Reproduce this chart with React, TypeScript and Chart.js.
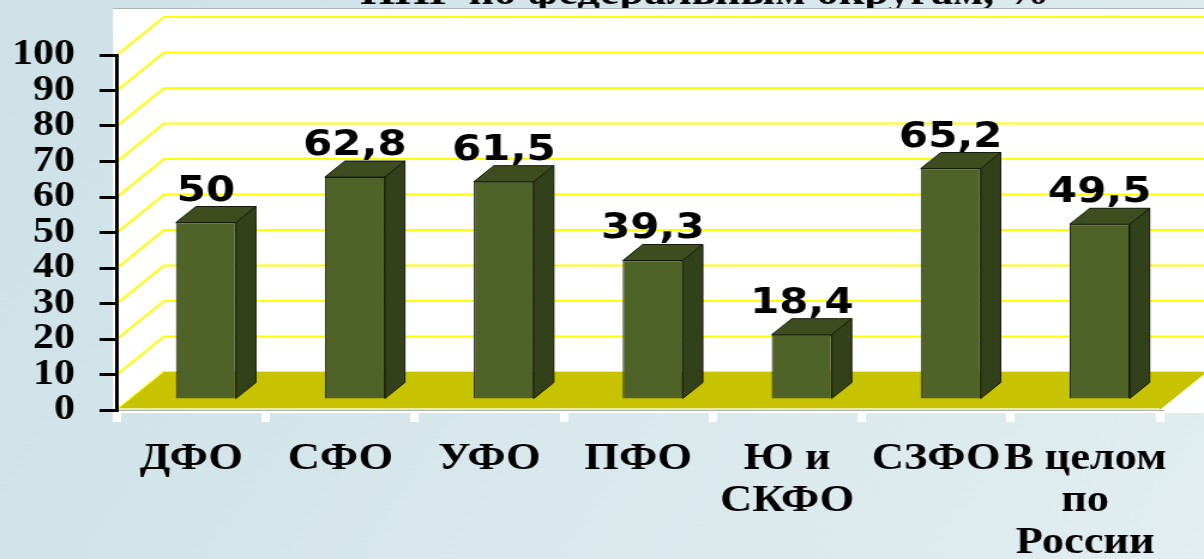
import React, { useEffect, useRef } from "react";
import { Chart, registerables } from "chart.js";

Chart.register(...registerables);

// ---- data ----
const chartTitle = "ННГ по федеральным округам, %";
const categories: string[][] = [
  ["ДФО"],
  ["СФО"],
  ["УФО"],
  ["ПФО"],
  ["Ю и", "СКФО"],
  ["СЗФО"],
  ["В целом", "по", "России"],
];
const values: number[] = [50, 62.8, 61.5, 39.3, 18.4, 65.2, 49.5];
const yMin = 0;
const yMax = 100;
const yStep = 10;

// ---- layout (canvas units; canvas is stretched horizontally like the source slide) ----
const CW = 1004;
const CH = 559;
const SX = 1204 / CW;
const AXIS_W = 97.5;
const TOP = 55;
const RIGHT_PAD = CW - 967;
const XAXIS_H = 149;
const WALL_DX = 47 / SX;
const WALL_DY = -38;
const BAR_SHIFT_X = 14.5 / SX;
const BAR_SHIFT_Y = -10;
const BAR_DX = 20 / SX;
const BAR_DY = -16;

const FRONT = "#4f6228";
const TOPC = "#3e4d1f";
const SIDE = "#33411a";
const EDGE = "#151b07";

const fmt = (v: number) => String(v).replace(".", ",");

const scenePlugin = {
  id: "scene3d",
  beforeDraw(chart: any) {
    const ctx = chart.ctx as CanvasRenderingContext2D;
    const ca = chart.chartArea;
    const ys = chart.scales.y;
    ctx.save();
    // page background
    const g = ctx.createLinearGradient(0, 0, CW, CH);
    g.addColorStop(0, "#cde1e7");
    g.addColorStop(1, "#e2eef0");
    ctx.fillStyle = g;
    ctx.fillRect(0, 0, CW, CH);
    // title (partly cut off at top)
    ctx.fillStyle = "#000";
    ctx.font = "bold 37px 'Liberation Serif', 'Times New Roman', serif";
    ctx.textAlign = "center";
    ctx.textBaseline = "alphabetic";
    ctx.fillText(chartTitle, 705 / SX, 4);
    // white plot area
    const plotLeft = 113 / SX;
    ctx.fillStyle = "#ffffff";
    ctx.fillRect(plotLeft, 8, CW - plotLeft, 413 - 8);
    ctx.strokeStyle = "#a9b6ba";
    ctx.lineWidth = 1;
    ctx.beginPath();
    ctx.moveTo(plotLeft, 8.5);
    ctx.lineTo(CW, 8.5);
    ctx.stroke();
    // back-wall gridlines
    const x0 = ca.left;
    ctx.strokeStyle = "#ffff00";
    ctx.lineWidth = 2;
    for (let v = yMin; v <= yMax; v += yStep) {
      const yf = ys.getPixelForValue(v);
      ctx.beginPath();
      ctx.moveTo(x0, yf);
      ctx.lineTo(x0 + WALL_DX, yf + WALL_DY);
      ctx.lineTo(CW, yf + WALL_DY);
      ctx.stroke();
    }
    // floor
    const y0 = ys.getPixelForValue(yMin);
    const x1 = ca.right;
    ctx.fillStyle = "#c8c300";
    ctx.beginPath();
    ctx.moveTo(x0, y0);
    ctx.lineTo(x1, y0);
    ctx.lineTo(x1 + WALL_DX, y0 + WALL_DY);
    ctx.lineTo(CW + 5, y0 + WALL_DY);
    ctx.lineTo(x0 + WALL_DX, y0 + WALL_DY);
    ctx.closePath();
    ctx.fill();
    ctx.strokeStyle = "#eeec9a";
    ctx.lineWidth = 2;
    ctx.beginPath();
    ctx.moveTo(x0, y0 - 1);
    ctx.lineTo(x1, y0 - 1);
    ctx.stroke();
    ctx.restore();
  },
  beforeDatasetsDraw(chart: any) {
    chart.ctx.save();
    chart.ctx.translate(BAR_SHIFT_X, BAR_SHIFT_Y);
  },
  afterDatasetsDraw(chart: any) {
    const ctx = chart.ctx as CanvasRenderingContext2D;
    const meta = chart.getDatasetMeta(0);
    ctx.lineWidth = 1;
    ctx.strokeStyle = EDGE;
    meta.data.forEach((bar: any) => {
      const { x, y, base, width } = bar.getProps(["x", "y", "base", "width"], true);
      const l = x - width / 2;
      const r = x + width / 2;
      // top face
      ctx.fillStyle = TOPC;
      ctx.beginPath();
      ctx.moveTo(l, y);
      ctx.lineTo(r, y);
      ctx.lineTo(r + BAR_DX, y + BAR_DY);
      ctx.lineTo(l + BAR_DX, y + BAR_DY);
      ctx.closePath();
      ctx.fill();
      ctx.stroke();
      // side face
      ctx.fillStyle = SIDE;
      ctx.beginPath();
      ctx.moveTo(r, y);
      ctx.lineTo(r + BAR_DX, y + BAR_DY);
      ctx.lineTo(r + BAR_DX, base + BAR_DY);
      ctx.lineTo(r, base);
      ctx.closePath();
      ctx.fill();
      ctx.stroke();
    });
    ctx.restore();
    // value labels
    ctx.save();
    ctx.fillStyle = "#000";
    ctx.font = "bold 35px 'DejaVu Sans', Verdana, sans-serif";
    ctx.textAlign = "center";
    ctx.textBaseline = "alphabetic";
    meta.data.forEach((bar: any, i: number) => {
      const { x, y } = bar.getProps(["x", "y"], true);
      ctx.fillText(fmt(values[i]), x + BAR_SHIFT_X, y + BAR_SHIFT_Y - 22);
    });
    ctx.restore();
  },
};

export default function App() {
  const ref = useRef<HTMLCanvasElement | null>(null);

  useEffect(() => {
    document.body.style.margin = "0";
    document.documentElement.style.overflow = "hidden";
    const canvas = ref.current;
    if (!canvas) return;
    const chart = new Chart(canvas, {
      type: "bar",
      data: {
        labels: categories,
        datasets: [
          {
            data: values,
            backgroundColor: FRONT,
            borderColor: EDGE,
            borderWidth: 1,
            barPercentage: 0.403,
            categoryPercentage: 1,
            clip: false as any,
          },
        ],
      },
      options: {
        responsive: false,
        animation: false,
        devicePixelRatio: 1,
        layout: { padding: { left: 0, top: TOP, right: RIGHT_PAD, bottom: 0 } },
        plugins: {
          legend: { display: false },
          title: { display: false },
          tooltip: { enabled: false },
        },
        scales: {
          x: {
            offset: true,
            grid: {
              offset: true,
              drawOnChartArea: false,
              drawTicks: true,
              tickLength: 12,
              color: "#ffffff",
              lineWidth: 7,
            },
            border: { display: true, color: "#aab4b8", width: 1 },
            ticks: {
              color: "#000",
              autoSkip: false,
              maxRotation: 0,
              minRotation: 0,
              padding: 17,
              font: { family: "'Liberation Serif', 'Times New Roman', serif", size: 37, weight: "bold", lineHeight: 1.13 },
            },
            afterFit: (s: any) => {
              s.height = XAXIS_H;
            },
          },
          y: {
            min: yMin,
            max: yMax,
            grid: {
              drawOnChartArea: false,
              drawTicks: true,
              tickLength: 14.5,
              color: "#000",
              lineWidth: 3,
            },
            border: { display: true, color: "#000", width: 3 },
            ticks: {
              stepSize: yStep,
              autoSkip: false,
              color: "#000",
              padding: 20.5,
              font: { family: "'Liberation Serif', 'Times New Roman', serif", size: 35, weight: "bold" },
            },
            afterFit: (s: any) => {
              s.width = AXIS_W;
            },
          },
        },
      },
      plugins: [scenePlugin],
    });
    return () => chart.destroy();
  }, []);

  return (
    <div
      style={{
        position: "fixed",
        left: 0,
        top: 0,
        width: CW,
        height: CH,
        transform: `scaleX(${SX})`,
        transformOrigin: "0 0",
      }}
    >
      <canvas ref={ref} width={CW} height={CH} style={{ display: "block", width: CW, height: CH }} />
    </div>
  );
}
